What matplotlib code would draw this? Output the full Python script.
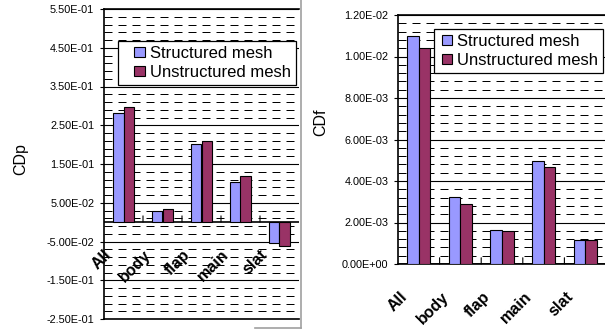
import numpy as np
import matplotlib
matplotlib.use('Agg')
import matplotlib.pyplot as plt
from matplotlib.patches import Rectangle
from matplotlib.legend_handler import HandlerPatch
from matplotlib.lines import Line2D
from matplotlib.ticker import FixedLocator, FuncFormatter

plt.rcParams['font.family'] = ['Liberation Sans', 'DejaVu Sans']

# data
categories = ['All', 'body', 'flap', 'main', 'slat']
labels = ['Structured mesh', 'Unstructured mesh']
cdp_struct = [0.281, 0.029, 0.201, 0.103, -0.055]
cdp_unstruct = [0.297, 0.033, 0.209, 0.118, -0.062]
cdf_struct = [0.0110, 0.00325, 0.00162, 0.00495, 0.00115]
cdf_unstruct = [0.0104, 0.00288, 0.00157, 0.00468, 0.00115]

cdp_ticks = [-0.25, -0.15, -0.05, 0.05, 0.15, 0.25, 0.35, 0.45, 0.55]
cdf_ticks = [0.0, 0.002, 0.004, 0.006, 0.008, 0.010, 0.012]

c_struct = '#9999FF'
c_unstruct = '#993366'
W, H = 605, 332

fig = plt.figure(figsize=(W / 100, H / 100), dpi=100)


def px_axes(x0, y0, x1, y1):
    # pixel box (top-left origin) -> axes
    return fig.add_axes([x0 / W, 1 - y1 / H, (x1 - x0) / W, (y1 - y0) / H])


def square_handle(legend, orig_handle, xdescent, ydescent, width, height, fontsize):
    s = 0.62 * fontsize
    return Rectangle((width - s - xdescent, (height - s) / 2 - ydescent), s, s)


def style_axes(ax, ticks, nminor, axis_y):
    x = np.arange(len(categories))
    w = 0.28
    lo, hi = ticks[0], ticks[-1]
    step = (ticks[1] - ticks[0]) / nminor
    ax.set_xlim(-0.5, len(categories) - 0.5)
    ax.set_ylim(lo, hi)
    ax.yaxis.set_major_locator(FixedLocator(ticks))
    ax.yaxis.set_minor_locator(FixedLocator(np.arange(lo, hi + step / 2, step)))
    ax.yaxis.set_major_formatter(FuncFormatter(lambda v, p: '%.2E' % v))
    ax.tick_params(axis='y', which='major', direction='out', length=3, width=0.8,
                   labelsize=7.8, pad=4)
    ax.tick_params(axis='y', which='minor', length=0)
    ax.grid(True, axis='y', which='major', color='black', lw=0.8, ls='-')
    ax.grid(True, axis='y', which='minor', color='black', lw=0.72, ls=(0, (8, 6)))
    ax.set_axisbelow(True)
    for sp in ['left', 'top', 'bottom']:
        ax.spines[sp].set_linewidth(1.2)
    ax.spines['right'].set_visible(False)
    # category axis line, boundary ticks and rotated labels
    ax.axhline(axis_y, color='black', lw=1.2, zorder=1)
    ax.set_xticks([])
    for b in np.arange(len(categories) - 1) + 0.5:
        ax.annotate('', xy=(b, axis_y), xytext=(0, 4.5), textcoords='offset points',
                    arrowprops=dict(arrowstyle='-', lw=0.8, color='black',
                                    shrinkA=0, shrinkB=0))
    for i, c in enumerate(categories):
        ax.annotate(c, xy=(i, axis_y), xytext=(-14, -18), textcoords='offset points',
                    rotation=45, rotation_mode='anchor', ha='right', va='top',
                    fontsize=11.5, fontweight='bold', annotation_clip=False)
    return x, w


def add_legend(ax, x0, y0, hlen):
    hs = [Rectangle((0, 0), 1, 1, fc=c_struct, ec='black', lw=0.8),
          Rectangle((0, 0), 1, 1, fc=c_unstruct, ec='black', lw=0.8)]
    leg = ax.legend(hs, labels, loc='upper left', bbox_to_anchor=(x0 / W, 1 - y0 / H),
                    bbox_transform=fig.transFigure, fontsize=12, frameon=True,
                    fancybox=False, edgecolor='black', framealpha=1, borderpad=0.3,
                    handlelength=hlen, handletextpad=0.3, labelspacing=0.22,
                    borderaxespad=0,
                    handler_map={Rectangle: HandlerPatch(patch_func=square_handle)})
    leg.get_frame().set_linewidth(0.9)
    leg.set_zorder(5)


# left chart: CDp
ax1 = px_axes(104, 9, 299, 319)
x, w = style_axes(ax1, cdp_ticks, 5, 0.0)
ax1.bar(x - w / 2, cdp_struct, w, color=c_struct, edgecolor='black', lw=0.8, zorder=3)
ax1.bar(x + w / 2, cdp_unstruct, w, color=c_unstruct, edgecolor='black', lw=0.8, zorder=3)
fig.text(21 / W, 1 - 159 / H, 'CDp', rotation=90, fontsize=11.5, ha='center', va='center')
add_legend(ax1, 118, 41, 1.3)

# right chart: CDf
ax2 = px_axes(398, 15, 606, 264)
x, w = style_axes(ax2, cdf_ticks, 5, 0.0)
ax2.bar(x - w / 2, cdf_struct, w, color=c_struct, edgecolor='black', lw=0.8, zorder=3)
ax2.bar(x + w / 2, cdf_unstruct, w, color=c_unstruct, edgecolor='black', lw=0.8, zorder=3)
fig.text(321 / W, 1 - 122 / H, 'CDf', rotation=90, fontsize=11.5, ha='center', va='center')
add_legend(ax2, 434, 29, 0.8)

# gray border of the left chart area
fig.add_artist(Line2D([300.5 / W, 300.5 / W], [1 - 328 / H, 1], color='#a0a0a0', lw=1.2))
fig.add_artist(Line2D([255 / W, 300.5 / W], [1 - 328 / H, 1 - 328 / H], color='#a0a0a0', lw=1.2))

fig.savefig('out.png', dpi=100)
